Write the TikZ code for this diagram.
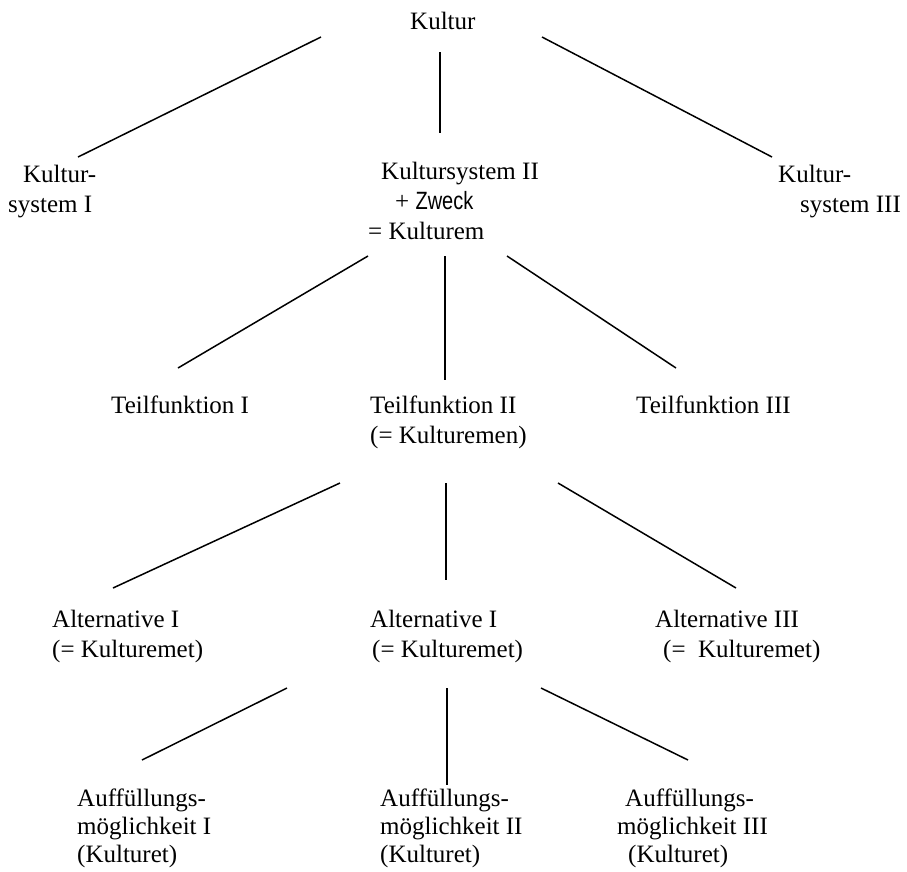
\documentclass[tikz,border=0pt]{standalone}
\usepackage{fontspec}
\setmainfont{Liberation Serif}
\newfontfamily\zweckfont{Liberation Sans}
\begin{document}
\begin{tikzpicture}[x=1pt,y=-1pt,
  lbl/.style={anchor=base west,inner sep=0pt,align=left,font=\fontsize{25}{30}\selectfont},
  edge/.style={line width=1.5pt}]
  \useasboundingbox (0,0) rectangle (907,871);
  % top level (base = last line)
  \node[lbl] (kultur) at (410,29) {Kultur};
  \node[lbl] (ks1) at (8,212) {\hspace{15pt}Kultur-\\system I};
  \node[lbl] (ks2) at (368,239) {\hspace{13pt}Kultursystem II\\\hspace{27pt}+ \scalebox{0.8}[1]{\zweckfont Zweck}\\= Kulturem};
  \node[lbl] (ks3) at (778,212) {Kultur-\\\hspace{22pt}system III};
  % partial functions
  \node[lbl] (tf1) at (111,413) {Teilfunktion I};
  \node[lbl] (tf2) at (370,443) {Teilfunktion II\\(= Kulturemen)};
  \node[lbl] (tf3) at (636,413) {Teilfunktion III};
  % alternatives
  \node[lbl] (alt1) at (52,657) {Alternative I\\(= Kulturemet)};
  \node[lbl] (alt2) at (370,657) {Alternative I\\\hspace{2pt}(= Kulturemet)};
  \node[lbl] (alt3) at (655,657) {Alternative III\\\hspace{8pt}(=\ \ Kulturemet)};
  % fillings
  \tikzset{lbl/.append style={font=\fontsize{25}{28}\selectfont}}
  \node[lbl] (af1) at (77,862) {Auffüllungs-\\möglichkeit I\\(Kulturet)};
  \node[lbl] (af2) at (380,862) {Auffüllungs-\\möglichkeit II\\(Kulturet)};
  \node[lbl] (af3) at (617,862) {\hspace{8pt}Auffüllungs-\\möglichkeit III\\\hspace{11pt}(Kulturet)};
  % line ends
  \coordinate (kultur-l) at (321,37);
  \coordinate (kultur-m) at (440,52);
  \coordinate (kultur-r) at (542,37);
  \coordinate (ks1-t) at (78,157);
  \coordinate (ks2-t) at (440,133);
  \coordinate (ks3-t) at (772,157);
  \coordinate (ks2-l) at (368,256);
  \coordinate (ks2-m) at (445,256);
  \coordinate (ks2-r) at (507,256);
  \coordinate (tf1-t) at (178,368);
  \coordinate (tf2-t) at (445,380);
  \coordinate (tf3-t) at (676,368);
  \coordinate (tf2-l) at (340,483);
  \coordinate (tf2-m) at (446,483);
  \coordinate (tf2-r) at (558,483);
  \coordinate (alt1-t) at (113,588);
  \coordinate (alt2-t) at (446,580);
  \coordinate (alt3-t) at (736,588);
  \coordinate (alt2-l) at (287,688);
  \coordinate (alt2-m) at (447,688);
  \coordinate (alt2-r) at (541,688);
  \coordinate (af1-t) at (142,760);
  \coordinate (af2-t) at (447,785);
  \coordinate (af3-t) at (688,760);
  % connectors
  \draw[edge] (kultur-l) -- (ks1-t);
  \draw[edge] (kultur-m) -- (ks2-t);
  \draw[edge] (kultur-r) -- (ks3-t);
  \draw[edge] (ks2-l) -- (tf1-t);
  \draw[edge] (ks2-m) -- (tf2-t);
  \draw[edge] (ks2-r) -- (tf3-t);
  \draw[edge] (tf2-l) -- (alt1-t);
  \draw[edge] (tf2-m) -- (alt2-t);
  \draw[edge] (tf2-r) -- (alt3-t);
  \draw[edge] (alt2-l) -- (af1-t);
  \draw[edge] (alt2-m) -- (af2-t);
  \draw[edge] (alt2-r) -- (af3-t);
\end{tikzpicture}
\end{document}
